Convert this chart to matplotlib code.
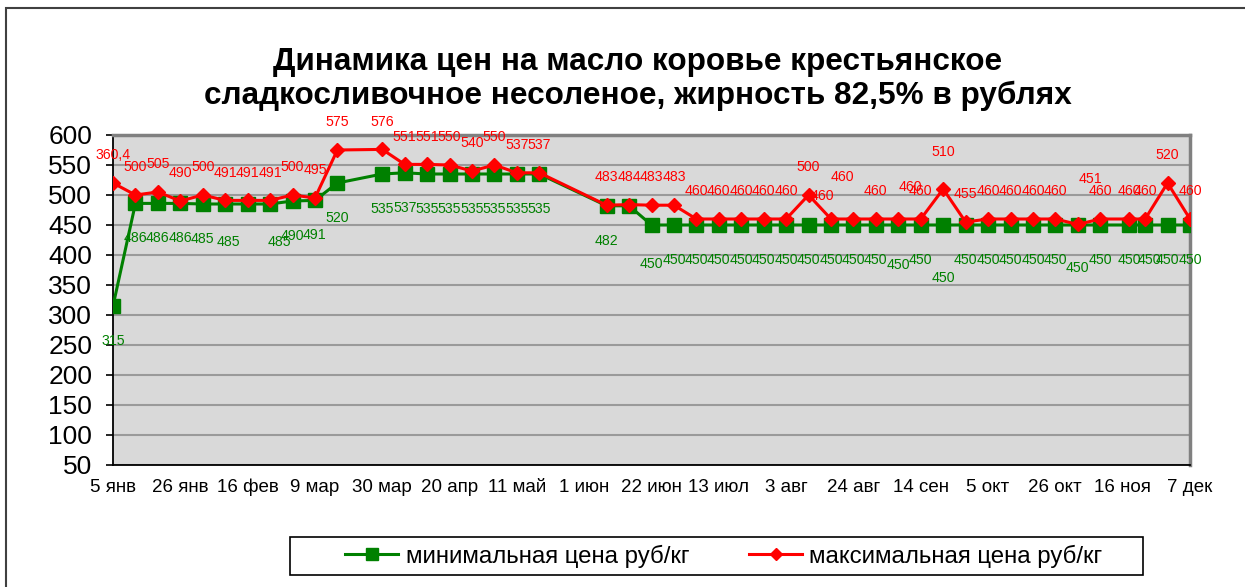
import matplotlib
matplotlib.use("Agg")
import matplotlib.pyplot as plt
from matplotlib.patches import Rectangle

plt.rcParams['font.family'] = ['Liberation Sans', 'DejaVu Sans']

# days counted from 5 Jan
days = [0, 7, 14, 21, 28, 35, 42, 49, 56, 63, 70,
        84, 91, 98, 105, 112, 119, 126, 133,
        154, 161, 168, 175, 182, 189, 196, 203, 210, 217, 224, 231, 238, 245,
        252, 259, 266, 273, 280, 287, 294, 301, 308,
        317, 322, 329, 336]

min_price = [315, 486, 486, 486, 485, 485, 485, 485, 490, 491, 520,
             535, 537, 535, 535, 535, 535, 535, 535,
             482, 482, 450, 450, 450, 450, 450, 450, 450, 450, 450, 450, 450, 450,
             450, 450, 450, 450, 450, 450, 450, 450, 450,
             450, 450, 450, 450]

max_price = [520, 500, 505, 490, 500, 491, 491, 491, 500, 495, 575,
             576, 551, 551, 550, 540, 550, 537, 537,
             483, 484, 483, 483, 460, 460, 460, 460, 460, 500, 460, 460, 460, 460,
             460, 510, 455, 460, 460, 460, 460, 451, 460,
             460, 460, 520, 460]

min_labels = [str(v) for v in min_price]
min_labels[6] = ""
min_labels[20] = ""
max_labels = [str(v) for v in max_price]
max_labels[0] = "360,4"

tick_days = list(range(0, 337, 21))
tick_labels = ["5 янв", "26 янв", "16 фев", "9 мар", "30 мар", "20 апр", "11 май",
               "1 июн", "22 июн", "13 июл", "3 авг", "24 авг", "14 сен", "5 окт",
               "26 окт", "16 ноя", "7 дек"]

# label nudges (points), keyed by day
red_nudge = {224: (-6.5, 16.5), 231: (-8, 30), 245: (9, 23), 259: (0, 27), 301: (9, 33)}
green_nudge = {35: (2, -27), 49: (7, -27), 168: (0, -28), 245: (0, -29),
               259: (0, -38), 301: (0, -31), 322: (3, -25)}

fig = plt.figure(figsize=(12.45, 5.87), dpi=100)
ax = fig.add_axes([113/1245, 1-465/587, (1190-113)/1245, (465-135)/587])
ax.set_facecolor("#d9d9d9")

ax.plot(days, min_price, color="#008000", lw=2.2, marker="s", ms=10,
        label="минимальная цена руб/кг", zorder=3)
ax.plot(days, max_price, color="#ff0000", lw=2.2, marker="D", ms=7.6,
        label="максимальная цена руб/кг", zorder=4)

for d, v, t in zip(days, min_price, min_labels):
    if not t:
        continue
    dx, dy = green_nudge.get(d, (0, -25))
    ax.annotate(t, (d, v), xytext=(dx, dy), textcoords="offset points",
                ha="center", va="center", color="#008000", fontsize=10.2, zorder=5)
for d, v, t in zip(days, max_price, max_labels):
    dx, dy = red_nudge.get(d, (0, 20))
    ax.annotate(t, (d, v), xytext=(dx, dy), textcoords="offset points",
                ha="center", va="center", color="#ff0000", fontsize=10.2, zorder=5,
                annotation_clip=False)

ax.set_xlim(0, 336)
ax.set_ylim(50, 600)
ax.set_yticks(range(50, 601, 50))
ax.set_xticks(tick_days)
ax.set_xticklabels(tick_labels)
ax.tick_params(axis="y", labelsize=19, length=5, width=1.2, pad=10, direction="out")
ax.tick_params(axis="x", labelsize=13.5, length=0, pad=10)
ax.yaxis.grid(True, color="#9a9a9a", lw=1.5)
ax.set_axisbelow(True)
for s in ["left", "bottom"]:
    ax.spines[s].set_color("black")
    ax.spines[s].set_linewidth(1.3)
for s in ["top", "right"]:
    ax.spines[s].set_color("#808080")
    ax.spines[s].set_linewidth(2.5)

fig.text(638/1245, 1-79/587,
         "Динамика цен на масло коровье крестьянское\nсладкосливочное несоленое, жирность 82,5% в рублях",
         ha="center", va="center", fontsize=22.7, fontweight="bold", linespacing=1.18)

fig.legend(loc="center", bbox_to_anchor=(724/1245, 1-556/587), ncol=2,
           frameon=False, fontsize=17.3, handlelength=2.2, columnspacing=2.5,
           handletextpad=0.3, markerscale=0.8)
fig.patches.append(Rectangle((290/1245, 1-575/587), (1143-290)/1245, 38/587,
                             transform=fig.transFigure, fill=False,
                             edgecolor="black", lw=1.2))

fig.patches.append(Rectangle((6/1245, -0.1), 1.2, 1.1 - 8/587, transform=fig.transFigure,
                             fill=False, edgecolor="#404040", lw=1.5))

fig.savefig("out.png", dpi=100)
